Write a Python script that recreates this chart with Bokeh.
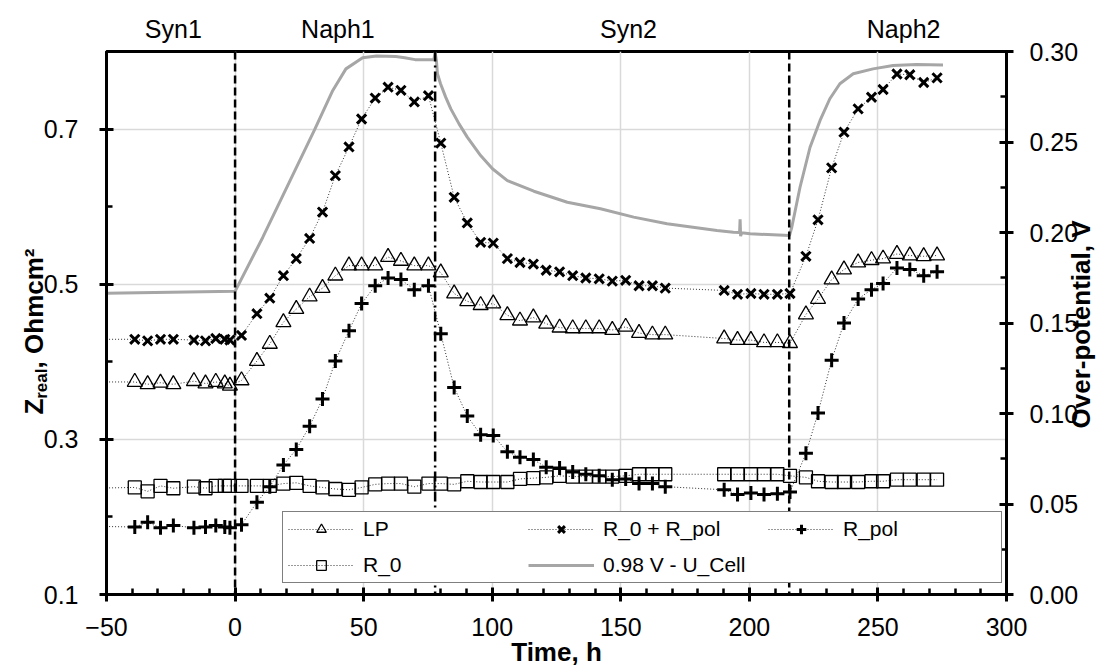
from math import pi
from bokeh.plotting import figure
from bokeh.models import (Range1d, LinearAxis, FixedTicker, Span, Legend, LegendItem,
                          PrintfTickFormatter)
from bokeh.embed import file_html
from bokeh.resources import INLINE

# ---------------- data ----------------
time_h = [-56,
          -39, -34, -29, -24, -16, -11.5, -7.5, -4, -2, 2.5,
          8.5, 13.5, 18.8, 23.8, 29, 34, 39, 44.3, 49.2, 54.5, 59.5, 64.5, 69.7, 75.2,
          80, 85.2, 90.3, 95.5, 100.4, 105.9, 110.8, 116, 121, 126.2, 131.3, 136.4, 141.6,
          146.7, 151.9, 157.1, 162.3, 167.3,
          190.2, 195.4, 200.6, 205.7, 210.9, 215.8,
          222, 226.7, 232, 236.8, 242.3, 247.5, 252, 257.4, 262.4, 267.8, 273]

lp = [0.374,
      0.374, 0.371, 0.373, 0.371, 0.375, 0.372, 0.374, 0.372, 0.369, 0.376,
      0.401, 0.423, 0.451, 0.468, 0.484, 0.495, 0.511, 0.524, 0.524, 0.524, 0.535, 0.530, 0.524, 0.524,
      0.515, 0.488, 0.478, 0.473, 0.475, 0.460, 0.453, 0.457, 0.449, 0.444, 0.443, 0.443, 0.443,
      0.441, 0.445, 0.437, 0.435, 0.435,
      0.430, 0.428, 0.428, 0.425, 0.425, 0.424,
      0.461, 0.481, 0.506, 0.519, 0.528, 0.531, 0.533, 0.539, 0.537, 0.536, 0.537]

r0_plus_rpol = [0.429,
                0.429, 0.427, 0.429, 0.429, 0.428, 0.427, 0.430, 0.429, 0.428, 0.434,
                0.462, 0.482, 0.511, 0.533, 0.559, 0.593, 0.640, 0.677, 0.713, 0.740, 0.754, 0.750, 0.735, 0.743,
                0.682, 0.612, 0.579, 0.554, 0.553, 0.533, 0.528, 0.526, 0.518, 0.516, 0.511, 0.508, 0.507,
                0.504, 0.505, 0.498, 0.498, 0.495,
                0.492, 0.487, 0.488, 0.487, 0.487, 0.488,
                0.536, 0.583, 0.650, 0.696, 0.726, 0.741, 0.751, 0.771, 0.770, 0.760, 0.766]

r_pol = [0.188,
         0.187, 0.193, 0.186, 0.189, 0.186, 0.187, 0.189, 0.187, 0.186, 0.190,
         0.219, 0.239, 0.267, 0.287, 0.317, 0.352, 0.401, 0.440, 0.475, 0.498, 0.508, 0.506, 0.493, 0.498,
         0.436, 0.367, 0.330, 0.306, 0.305, 0.284, 0.277, 0.274, 0.264, 0.263, 0.258, 0.255, 0.253,
         0.248, 0.249, 0.243, 0.243, 0.239,
         0.235, 0.229, 0.231, 0.229, 0.230, 0.232,
         0.282, 0.334, 0.402, 0.450, 0.481, 0.493, 0.501, 0.521, 0.519, 0.511, 0.516]

r_0 = [0.237,
       0.238, 0.233, 0.240, 0.237, 0.239, 0.237, 0.240, 0.240, 0.240, 0.240,
       0.240, 0.240, 0.243, 0.244, 0.240, 0.238, 0.236, 0.235, 0.238, 0.242, 0.243, 0.243, 0.239, 0.243,
       0.243, 0.242, 0.246, 0.245, 0.245, 0.245, 0.249, 0.250, 0.251, 0.253, 0.252, 0.252, 0.252,
       0.252, 0.253, 0.255, 0.255, 0.255,
       0.255, 0.255, 0.255, 0.255, 0.255, 0.253,
       0.251, 0.246, 0.245, 0.245, 0.245, 0.246, 0.246, 0.248, 0.248, 0.248, 0.248]

u_time_h = [-50, -25, 0, 10.8, 21.1, 30.8, 38.0, 43.1, 49.6, 55, 62.5, 66, 70, 77.3, 77.8, 78.3,
            78.7, 79.9, 81.9, 83.9, 87.1, 90.3, 95.5, 100.1, 105.9, 116.2, 129.2, 142.1, 155.0,
            168.0, 187.4, 193.8, 196.2, 196.4, 196.6, 197, 200.3, 215.6, 216.5, 219.7, 223.6,
            227.5, 231.3, 235.2, 240.4, 248.1, 255.9, 265, 275.3]
overpotential_v = [0.1665, 0.1670, 0.1675, 0.1974, 0.2278, 0.2564, 0.2785, 0.2904, 0.2965, 0.2975,
                   0.2972, 0.2965, 0.2955, 0.2955, 0.2995, 0.2950,
                   0.2877, 0.2822, 0.2748, 0.2683, 0.2600, 0.2527, 0.2425, 0.2352, 0.2287, 0.2228,
                   0.2167, 0.2131, 0.2085, 0.2048, 0.2011, 0.2002, 0.2000, 0.2073, 0.1980, 0.1998,
                   0.1993, 0.1983, 0.2029, 0.2250, 0.2471, 0.2619, 0.2739, 0.2822, 0.2877, 0.2904,
                   0.2923, 0.2928, 0.2925]

phase_names = ["Syn1", "Naph1", "Syn2", "Naph2"]
phase_label_x = [-24, 40, 153, 260]
switch_times = [0, 77.8, 215.5]
switch_dashes = ["8 4", "10 4 2 4", "8 4"]

x_ticks = [-50, 0, 50, 100, 150, 200, 250, 300]
y_ticks = [0.1, 0.3, 0.5, 0.7]
y2_ticks = [0.0, 0.05, 0.10, 0.15, 0.20, 0.25, 0.30]

FONT = "Liberation Sans"

p = figure(width=1113, height=671, x_range=Range1d(-50, 300), y_range=Range1d(0.1, 0.8),
           output_backend="svg", toolbar_location=None,
           min_border_left=105, min_border_right=106, min_border_top=51, min_border_bottom=77,
           background_fill_color="white", border_fill_color="white")
# "right": over-potential axis; "px": frame-pixel range used only to place title texts
p.extra_y_ranges = {"right": Range1d(0, 0.3), "px": Range1d(0, 543)}

yaxis_left = p.yaxis[0]
xaxis = p.xaxis[0]
yaxis2 = LinearAxis(y_range_name="right")
p.add_layout(yaxis2, "right")

p.outline_line_color = "black"
p.outline_line_width = 3

for ax in [xaxis, yaxis_left, yaxis2]:
    ax.axis_line_width = 3
    ax.axis_line_color = "black"
    ax.major_tick_line_width = 3
    ax.major_tick_line_color = "black"
    ax.minor_tick_line_width = 2.5
    ax.minor_tick_line_color = "black"
    ax.major_tick_in = 7
    ax.major_tick_out = 7
    ax.minor_tick_in = 6
    ax.minor_tick_out = 0
    ax.major_label_text_font = FONT
    ax.major_label_text_font_size = "25px"
    ax.major_label_text_color = "black"

xaxis.ticker = FixedTicker(ticks=x_ticks, minor_ticks=list(range(-40, 300, 10)))
xaxis.major_label_standoff = 16
xaxis.axis_label = "Time, h"
xaxis.axis_label_text_font = FONT
xaxis.axis_label_text_font_size = "26px"
xaxis.axis_label_text_font_style = "bold"
xaxis.axis_label_text_color = "black"
try:
    xaxis.axis_label_standoff = -2
except Exception:
    xaxis.axis_label_standoff = 0

yaxis_left.ticker = FixedTicker(ticks=y_ticks, minor_ticks=[0.2, 0.4, 0.6, 0.8])
yaxis_left.formatter = PrintfTickFormatter(format="%.1f")
yaxis_left.major_label_standoff = 21
yaxis2.ticker = FixedTicker(ticks=y2_ticks, minor_ticks=[0.025, 0.075, 0.125, 0.175, 0.225, 0.275])
yaxis2.formatter = PrintfTickFormatter(format="%.2f")
yaxis2.major_label_standoff = 16

p.xgrid.ticker = FixedTicker(ticks=x_ticks)
p.ygrid.ticker = FixedTicker(ticks=y_ticks)
p.xgrid.grid_line_color = "#d9d9d9"
p.ygrid.grid_line_color = "#d9d9d9"
p.xgrid.grid_line_width = 1.5
p.ygrid.grid_line_width = 1.5


def text_axis(ticks, labels, size, bold, standoff, orientation=None, **kw):
    ax = LinearAxis(ticker=FixedTicker(ticks=ticks),
                    major_label_overrides=dict(zip(ticks, labels)), **kw)
    ax.axis_line_color = None
    ax.major_tick_line_color = None
    ax.minor_tick_line_color = None
    ax.major_tick_in = 0
    ax.major_tick_out = 0
    ax.minor_tick_in = 0
    ax.minor_tick_out = 0
    ax.major_label_text_font = FONT
    ax.major_label_text_font_size = size
    ax.major_label_text_font_style = "bold" if bold else "normal"
    ax.major_label_text_color = "black"
    ax.major_label_text_line_height = 1.0
    if orientation is not None:
        ax.major_label_orientation = orientation
    try:
        ax.major_label_standoff = standoff
    except Exception:
        ax.major_label_standoff = 0
    return ax


# phase names above the frame
p.add_layout(text_axis(phase_label_x, phase_names, "25px", False, 9), "above")

# right title (reads bottom to top, starts at its tick)
p.add_layout(text_axis([166], ["Over-potential, V"], "26px", True, -1, pi / 2,
                       y_range_name="px"), "right")

# left title: Z_real, Ohmcm²  (subscript on its own, inner axis)
p.add_layout(text_axis([226], ["real"], "17px", True, -1, pi / 2, y_range_name="px"), "left")
p.add_layout(text_axis([196, 346], ["Z", ", Ohmcm²"], "26px", True, -14, pi / 2,
                       y_range_name="px"), "left")

# ---------------- glyphs ----------------
u_line = p.line(u_time_h, overpotential_v, y_range_name="right", line_color="#a6a6a6", line_width=3)

dot = dict(line_color="#333333", line_width=1, line_dash="1 2")
lp_line = p.line(time_h, lp, **dot)
x_line = p.line(time_h, r0_plus_rpol, **dot)
pol_line = p.line(time_h, r_pol, **dot)
r0_line = p.line(time_h, r_0, **dot)

r0_sc = p.scatter(time_h, r_0, marker="square", size=13, fill_color=None,
                  line_color="black", line_width=1.3)
lp_sc = p.scatter(time_h, lp, marker="triangle", size=15, fill_color=None,
                  line_color="black", line_width=1.3)
x_sc = p.scatter(time_h, r0_plus_rpol, marker="x", size=13, line_color="black", line_width=3)
pol_sc = p.scatter(time_h, r_pol, marker="cross", size=14, line_color="black", line_width=3)

for t, d in zip(switch_times, switch_dashes):
    p.add_layout(Span(location=t, dimension="height", line_color="black",
                      line_width=2.5, line_dash=d))

# ---------------- legend ----------------
legend = Legend(items=[
    LegendItem(label="LP", renderers=[lp_line, lp_sc]),
    LegendItem(label="R_0 + R_pol", renderers=[x_line, x_sc]),
    LegendItem(label="R_pol", renderers=[pol_line, pol_sc]),
    LegendItem(label="R_0", renderers=[r0_line, r0_sc]),
    LegendItem(label="0.98 V - U_Cell", renderers=[u_line]),
], location=(176, 11), orientation="horizontal", ncols=3,
    glyph_width=66, glyph_height=24, label_standoff=9, label_width=153, label_height=24,
    spacing=12, padding=5, margin=0,
    label_text_font=FONT, label_text_font_size="21px", label_text_color="black",
    border_line_color="black", border_line_width=1.5, background_fill_color="white",
    background_fill_alpha=1.0)
p.add_layout(legend)

open("out.html", "w").write(file_html(p, INLINE))
